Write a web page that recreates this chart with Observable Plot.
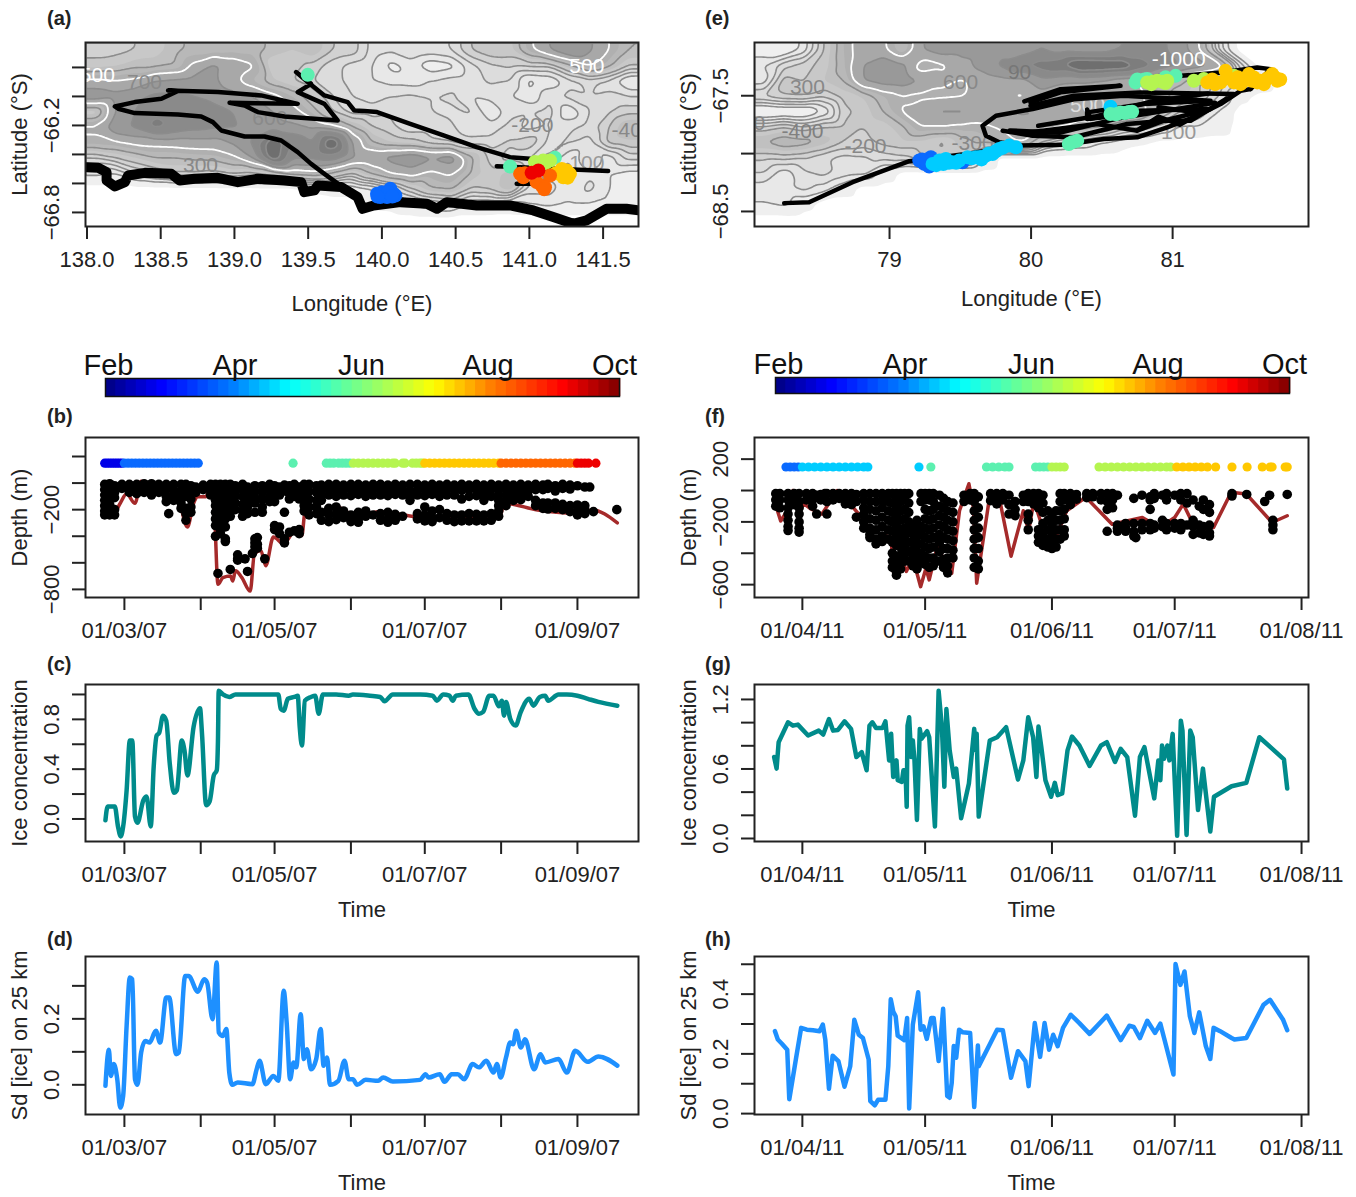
<!DOCTYPE html>
<html><head><meta charset="utf-8">
<script src="https://cdn.jsdelivr.net/npm/d3@7"></script>
<script src="https://cdn.jsdelivr.net/npm/@observablehq/plot@0.6"></script>
<style>
html,body{margin:0;padding:0;background:#fff}
#stage{position:relative;width:1356px;height:1197px;overflow:hidden;font-family:"Liberation Sans",Arial,sans-serif;color:#222}
#stage>svg{position:absolute;overflow:visible}
.letter{position:absolute;font-weight:bold;font-size:20px;line-height:20px}
</style></head><body><div id="stage"></div>
<script>
// ---------- data ----------
const monthColors={2:"#0000e8",3:"#0a6aff",4:"#00ccff",5:"#5cf0b0",6:"#b5f550",7:"#ffc800",8:"#ff6600",9:"#ee0000"};
const jetStops=[0,.11,.25,.36,.5,.64,.75,.89,1];
const jetColors=["#00007f","#0000ff","#007fff","#00ffff","#7fff7f","#ffff00","#ff7f00","#ff0000","#7f0000"];
const barMonths=["Feb","Apr","Jun","Aug","Oct"];
const barMonthNumbers=[2,4,6,8,10];
const barSteps=[0,.02,.04,.06,.08,.1,.12,.14,.16,.18,.2,.22,.24,.26,.28,.3,.32,.34,.36,.38,.4,.42,.44,.46,.48,.5,.52,.54,.56,.58,.6,.62,.64,.66,.68,.7,.72,.74,.76,.78,.8,.82,.84,.86,.88,.9,.92,.94,.96,.98];

const aDepth=[
[280,280,300,320,380,420,420,430,430,380,350,400,300,280,180,160,200,180,200,300,340,330,480,600,700,620,500,400],
[320,340,380,380,400,520,620,560,510,300,320,280,220,180,150,80,120,60,80,180,240,260,260,260,380,510,420,300],
[520,500,520,600,620,640,620,520,440,350,300,250,220,180,150,130,120,150,170,180,210,200,80,100,180,220,180,80],
[680,640,680,720,720,700,680,640,600,530,450,350,250,200,180,200,210,200,210,150,170,150,100,200,220,200,210,200],
[300,600,700,780,760,750,720,700,650,600,540,430,300,220,220,240,230,200,190,210,100,180,200,220,100,200,240,280],
[520,680,720,830,780,740,720,710,680,640,620,580,520,400,300,260,210,220,210,160,170,220,180,200,190,220,300,410],
[480,490,530,540,550,560,560,620,720,1010,800,700,1020,600,400,340,320,260,240,220,220,260,290,180,210,180,320,340],
[250,300,350,400,400,420,430,480,620,1000,720,720,760,620,600,640,680,620,660,420,280,220,190,210,100,210,120,220],
[120,100,200,250,300,300,280,320,300,350,450,480,400,300,420,520,560,480,520,400,320,380,220,120,80,140,100,80],
[0,0,0,0,0,0,0,0,0,0,0,40,60,60,100,180,300,400,420,300,320,400,180,180,100,170,100,80],
[0,0,0,0,0,0,0,0,0,0,0,0,0,0,40,50,100,150,200,100,100,80,100,120,100,100,100,100],
[0,0,0,0,0,0,0,0,0,0,0,0,0,0,0,0,0,0,0,0,0,0,0,0,0,0,0,0]];
const eDepth=[
[60,40,120,300,450,560,520,400,600,650,640,640,680,650,700,660,640,640,700,720,720,660,500,180,0,0,0,0],
[150,240,280,320,440,600,700,620,430,480,560,640,720,800,850,900,1040,1030,1010,880,760,700,650,560,200,0,0,0],
[120,330,300,350,400,600,650,660,600,520,490,530,560,560,660,620,610,580,520,490,450,420,300,240,200,100,0,0],
[260,300,310,260,320,350,440,490,470,480,490,560,510,480,560,520,500,520,540,520,440,360,300,200,50,0,0,0],
[0,20,20,100,280,320,400,510,600,620,620,560,600,620,600,570,560,600,620,560,380,250,200,90,0,0,0,0],
[260,300,250,300,310,300,320,390,500,500,480,480,510,540,540,510,450,400,300,250,170,90,90,60,0,0,0,0],
[410,460,440,380,300,280,320,340,330,280,370,420,470,520,300,200,160,100,60,30,0,0,0,0,0,0,0,0],
[260,270,250,210,180,190,220,240,300,320,320,120,0,0,0,0,0,0,0,0,0,0,0,0,0,0,0,0],
[200,120,190,220,180,170,70,0,0,0,0,0,0,0,0,0,0,0,0,0,0,0,0,0,0,0,0,0],
[120,140,170,130,60,0,0,0,0,0,0,0,0,0,0,0,0,0,0,0,0,0,0,0,0,0,0,0],
[100,120,50,0,0,0,0,0,0,0,0,0,0,0,0,0,0,0,0,0,0,0,0,0,0,0,0,0],
[0,0,0,0,0,0,0,0,0,0,0,0,0,0,0,0,0,0,0,0,0,0,0,0,0,0,0,0]];
const fillLevels=[25,100,150,200,250,300,350,400,450,500,600,700,800,900,1000];
const greyLines=[100,150,200,250,300,400,600,700,800,900];
const whiteLines=[500,1000];

const aCoast=[[137.997,-66.488],[138.076,-66.492],[138.133,-66.522],[138.133,-66.58],[138.189,-66.621],[138.257,-66.591],[138.279,-66.545],[138.392,-66.527],[138.572,-66.534],[138.629,-66.58],[138.73,-66.568],[138.888,-66.561],[139.023,-66.591],[139.159,-66.568],[139.339,-66.58],[139.452,-66.591],[139.474,-66.66],[139.542,-66.648],[139.565,-66.614],[139.723,-66.625],[139.835,-66.694],[139.869,-66.775],[139.944,-66.752],[140.125,-66.729],[140.305,-66.74],[140.373,-66.775],[140.44,-66.729],[140.643,-66.752],[140.869,-66.752],[141.027,-66.786],[141.162,-66.832],[141.297,-66.878],[141.388,-66.855],[141.523,-66.775],[141.658,-66.775],[141.748,-66.786]];
const aTrack=[[139.734,-66.625],[139.61,-66.534],[139.52,-66.465],[139.429,-66.384],[139.317,-66.304],[139.204,-66.276],[139.069,-66.276],[138.911,-66.235],[138.854,-66.177],[138.775,-66.138],[138.617,-66.124],[138.324,-66.115],[138.212,-66.085],[138.189,-66.069],[138.324,-66.039],[138.505,-66.016],[138.617,-65.963],[138.55,-65.959],[138.888,-65.97],[139.181,-65.993],[139.429,-66.051],[138.967,-66.044],[139.069,-66.062],[139.159,-66.108],[139.339,-66.138],[139.7,-66.166],[139.61,-66.051],[139.429,-65.97],[139.52,-65.913],[139.418,-65.832],[139.497,-65.901],[139.61,-65.993],[139.768,-66.039],[139.813,-66.097],[139.88,-66.101],[139.967,-66.108],[140.192,-66.189],[140.418,-66.269],[140.643,-66.35],[140.869,-66.419],[141.004,-66.43]];
const aTrackEast=[[140.779,-66.481],[141.534,-66.515]];
const aTrackSouth=[[140.914,-66.603],[141.027,-66.603]];
const aDots=[[139.497,-65.851,5],[139.967,-66.671,3],[140.012,-66.683,3],[140.057,-66.637,3],[140.08,-66.671,3],[139.989,-66.694,3],[140.034,-66.694,3],[140.091,-66.683,3],[140,-66.66,3],[140.04,-66.66,3],[140.07,-66.69,3],[139.97,-66.69,3],[140.869,-66.483,5],[141.173,-66.423,5],[141.038,-66.453,6],[141.094,-66.442,6],[141.14,-66.442,6],[141.06,-66.47,6],[141.11,-66.46,6],[141.207,-66.522,7],[141.252,-66.511,7],[141.275,-66.534,7],[141.23,-66.557,7],[141.22,-66.5,7],[141.26,-66.56,7],[141.18,-66.53,7],[140.937,-66.534,8],[140.959,-66.557,8],[141.083,-66.614,8],[141.14,-66.545,8],[141.049,-66.591,8],[141.106,-66.626,8],[140.97,-66.53,8],[141.1,-66.64,8],[141.015,-66.527,9],[141.061,-66.511,9]];
const aLabels=[["500",138.07,-65.855,"#fff"],["500",141.39,-65.79,"#fff"],["-200",141.02,-66.2,"#888"],["-40",141.66,-66.23,"#888"],["100",141.39,-66.46,"#999"],["300",138.77,-66.476,"#888"],["700",138.39,-65.9,"#8a8a8a"],["600",139.24,-66.15,"#8a8a8a"]];

const eStrands=[
[[78.256,-68.428],[78.432,-68.42],[78.739,-68.247],[79.139,-68.066],[79.54,-68.003],[79.917,-67.931],[80.232,-67.923],[80.514,-67.874],[80.75,-67.859],[80.962,-67.773],[81.174,-67.673],[81.339,-67.572],[81.48,-67.457],[81.55,-67.443]],
[[79.917,-67.931],[79.775,-67.902],[79.681,-67.845],[79.657,-67.759],[79.752,-67.673],[80.011,-67.615],[80.302,-67.53],[80.656,-67.5],[81.268,-67.543],[80.797,-67.572],[80.396,-67.644],[80.396,-67.701],[80.773,-67.63],[81.268,-67.615],[80.938,-67.716],[80.75,-67.802],[80.467,-67.744],[79.996,-67.816]],
[[79.799,-67.802],[80.011,-67.845],[80.302,-67.859],[80.679,-67.744],[80.938,-67.716],[81.127,-67.716],[81.433,-67.486],[80.773,-67.471],[80.302,-67.5],[79.996,-67.586]],
[[79.952,-67.549],[80.208,-67.443],[80.632,-67.414],[80.208,-67.471],[79.996,-67.558]],
[[81.06,-67.328],[81.35,-67.3],[81.598,-67.256],[81.692,-67.27],[81.55,-67.443]],
[[79.85,-67.8],[80.2,-67.82],[80.6,-67.7],[81,-67.62],[81.3,-67.56]],
[[80.05,-67.76],[80.45,-67.68],[80.85,-67.55],[81.25,-67.48]],
[[80.75,-67.8],[80.9,-67.68],[81.05,-67.75],[81.2,-67.65],[80.9,-67.6]],
[[80.396,-67.62],[80.42,-67.7],[80.56,-67.68]]];
const eDots=[[79.21,-68.06,3],[79.245,-68.089,3],[79.28,-68.112,3],[79.292,-68.032,3],[79.516,-68.075,3],[79.23,-68.05,3],[79.26,-68.07,3],[79.3,-68.05,3],
[79.304,-68.089,4],[79.351,-68.06,4],[79.398,-68.046,4],[79.445,-68.075,4],[79.493,-68.06,4],[79.551,-68.032,4],[79.61,-68.032,4],[79.681,-68.017,4],[79.728,-68.003,4],[79.775,-67.96,4],[79.846,-67.931,4],[79.893,-67.946,4],[80.561,-67.595,4],[79.33,-68.1,4],[79.38,-68.09,4],[79.42,-68.08,4],[79.47,-68.08,4],[79.37,-68.06,4],[79.58,-68.04,4],[79.64,-68.03,4],[79.7,-68,4],[79.75,-67.98,4],[79.8,-67.95,4],[79.65,-68.05,4],
[80.29,-67.902,5],[80.326,-67.888,5],[80.267,-67.917,5],[80.561,-67.658,5],[80.632,-67.644,5],[80.714,-67.638,5],[80.66,-67.65,5],[80.6,-67.66,5],[80.69,-67.64,5],[80.738,-67.385,5],[80.82,-67.356,5],[81.021,-67.328,5],[80.8,-67.36,5],[80.95,-67.34,5],[80.75,-67.36,5],
[80.82,-67.385,6],[80.891,-67.371,6],[80.962,-67.371,6],[81.15,-67.371,6],[81.221,-67.356,6],[81.433,-67.328,6],[80.86,-67.38,6],[80.93,-67.38,6],[80.85,-67.4,6],[80.95,-67.39,6],
[81.245,-67.385,7],[81.339,-67.385,7],[81.374,-67.285,7],[81.433,-67.385,7],[81.504,-67.371,7],[81.539,-67.313,7],[81.598,-67.385,7],[81.645,-67.4,7],[81.704,-67.313,7],[81.739,-67.371,7],[81.386,-67.342,7],[81.574,-67.342,7],[81.28,-67.36,7],[81.3,-67.4,7],[81.46,-67.34,7],[81.48,-67.4,7],[81.56,-67.37,7],[81.62,-67.37,7],[81.67,-67.35,7],[81.72,-67.34,7],[81.76,-67.36,7]];
const eLabels=[["-1000",81.043,-67.181,"#fff"],["600",79.502,-67.384,"#888"],["-400",78.385,-67.81,"#808080"],["-200",78.83,-67.94,"#888"],["-300",79.587,-67.914,"#888"],["300",78.42,-67.431,"#888"],["500",80.399,-67.586,"#ddd"],["100",81.042,-67.819,"#999"],["0",78.081,-67.741,"#888"],["90",79.919,-67.3,"#777"]];

// days counted from 1 March 2007 (left) and from 1 April 2011 (right)
const bBottom=[[-7.7,-178],[-5.1,-254],[-1.7,-152],[.9,-81],[4.3,-152],[6.8,13],[8.5,-30],[22.1,-89],[23.3,-203],[25.6,-330],[28.1,-152],[29.8,-102],[33.2,-102],[34.9,5],[36.6,-229],[38,-762],[40,-711],[43.1,-699],[44,-737],[45.1,-660],[47.7,-711],[51.1,-813],[52.8,-533],[55.4,-508],[57.4,-622],[60.5,-406],[64.7,-457],[69,-368],[72.1,-394],[73.3,-229],[79.2,-229],[86,-178],[94.5,-254],[103.1,-216],[120.1,-254],[152.5,-254],[154.2,-152],[167.8,-203],[184.8,-229],[190,-203],[200.2,-300]];
const bSurfaceDays=[-8,-7,-6,-5,-4,-3,-2,-1,0,1.5,3,4.5,6,7.5,9,10.5,12,13.5,15,16.5,18,19.5,21,22.5,24,25.5,27,28.5,30,68.5,82,83.5,85,87,88.5,90,91.5,93,95,97,99,101,103,105,107,109,110,113,114,117,118.5,120,121,122,124,126,128,130,132,134,136,138,140,142,144,146,148,150,152,153,155,157,159,161,163,165,167,169,171,173,175,177,179,181,183,184,185.5,187,188.5,191.5];
const bDives=[[-8,[-10,-50,-90,-130,-170,-210,-240]],[-6,[-5,-40,-80,-120,-160,-200,-240]],[-4,[-20,-70,-110,-200,-240]],[-1,[-10,-40]],[2,[-10,-50,-70]],[5,[-10,-40,-80]],[8,[-5,-40,-70]],[11,[-5,-40,-90]],[14,[-10,-40,-70]],[17,[-10,-50,-100,-140]],[18,[-230]],[20,[-10,-50,-90,-130]],[23,[-10,-60,-110,-150,-190]],[25,[-10,-50,-100,-190,-230,-280]],[27,[-20,-70,-120,-180,-220]],[29,[-30,-70]],[32,[-15,-50]],[35,[-10,-45,-90]],[37,[-10,-50,-90,-130,-170,-220,-270,-320,-400]],[38,[-680]],[39,[-10,-50,-100,-150,-200,-250,-300,-350,-380]],[41,[-10,-60,-110,-160,-220,-270,-330,-420,-440]],[43,[-10,-50,-100,-150,-200,-250,-650]],[45,[-20,-60,-100,-150,-200]],[46,[-540,-570,-580]],[48,[-10,-50,-100,-160,-210,-250]],[49,[-570]],[50,[-30,-80,-130,-180,-230,-665]],[52,[-530]],[53,[-20,-60,-110,-150,-220,-420,-450,-480]],[54,[-410,-460,-490]],[56,[-20,-70,-120,-180,-220]],[57,[-570]],[59,[-10,-50,-100,-140]],[61,[-20,-60,-100,-140,-320,-350]],[63,[-30,-90,-330,-380]],[65,[-15,-60,-220,-420,-450]],[67,[-20,-80,-120,-370]],[69,[-10,-50,-100,-360]],[71,[-30,-80,-120,-350,-380]],[73,[-10,-50,-90,-130,-170,-210]],[75,[-10,-60,-120,-180,-240]],[78,[-20,-70,-130,-180,-230]],[80,[-15,-50,-90,-130,-220,-280]],[83,[-10,-45,-90,-190,-240,-290]],[86,[-10,-55,-100,-180,-230,-275]],[89,[-15,-50,-90,-210,-260]],[92,[-10,-50,-95,-240,-290]],[95,[-10,-45,-85,-220,-270,-295]],[98,[-15,-60,-100,-210,-250]],[101,[-10,-50,-90,-240]],[104,[-10,-45,-90,-230,-280]],[107,[-15,-55,-95,-220,-270,-295]],[110,[-10,-50,-85,-235,-280]],[113,[-15,-50,-90,-250]],[116,[-10,-60,-100,-130]],[119,[-10,-50,-90,-230,-270]],[122,[-15,-50,-95,-180,-240,-285]],[125,[-10,-50,-85,-210,-260,-290]],[128,[-15,-60,-100,-200,-260]],[131,[-10,-50,-90,-230,-280]],[134,[-15,-50,-90,-240,-290]],[137,[-10,-55,-120,-240,-285]],[140,[-15,-50,-100,-230,-285]],[143,[-10,-45,-95,-235,-285]],[146,[-15,-55,-90,-130,-240,-285]],[149,[-10,-50,-100,-230,-280]],[152,[-15,-50,-90,-130,-170,-210,-250]],[155,[-10,-50,-90,-130,-170]],[158,[-15,-55,-100,-130]],[161,[-10,-50,-90,-125]],[164,[-15,-60,-100]],[167,[-10,-50,-130,-170]],[170,[-15,-50,-150,-190]],[172,[-10,-40,-150,-195]],[175,[-20,-60,-150,-190]],[178,[-10,-40,-160,-200]],[181,[-15,-45,-170,-215]],[184,[-20,-165,-210,-240]],[187,[-30,-170,-200,-230]],[189,[-30]],[190.5,[-215]],[200,[-200]]];
const cIce=[[-7.7,-.01],[-6.8,.1],[-5.1,.1],[-3.9,.1],[-2.6,-.06],[-1.5,-.14],[-.5,-.06],[.9,.23],[2.2,.63],[3.2,.63],[4.3,.02],[5.3,-.03],[7.7,.15],[9,.18],[10.7,-.06],[11.9,.42],[13.1,.67],[14.1,.69],[15.7,.83],[17,.79],[18.4,.45],[20.1,.21],[21.3,.23],[23.3,.63],[24.4,.55],[25.6,.35],[28.1,.74],[30.7,.89],[31.5,.69],[33.2,.11],[34.6,.14],[36.3,.35],[37.5,.39],[38,.63],[38.3,1.03],[40,1],[42.6,.98],[45.1,1],[60.5,1],[62.5,1],[63.5,.885],[64.7,.87],[66.4,.965],[69,.98],[70.4,.99],[71.2,.74],[72.1,.59],[73.3,.95],[75.8,.98],[77.5,.99],[78.9,.845],[80.6,1],[86,1],[91.1,.99],[92.8,1],[99.7,.99],[103.9,.98],[105.6,.945],[109,1],[120.1,1],[125.2,.99],[126.9,.95],[129.5,1],[132,.99],[133.4,.95],[134.6,.99],[139.7,1],[142.2,.885],[144,.845],[145.7,.86],[148.2,.99],[149.9,.99],[152.1,.905],[153.3,.95],[154.2,.83],[155,.94],[156.7,.805],[158.9,.75],[161,.86],[164.4,.965],[166.1,.91],[168.7,.98],[170.9,.99],[172.1,.95],[176.3,1],[179.7,1],[184,.99],[188.2,.965],[192.5,.94],[200.2,.91]];
const dSd=[[-7.7,-.003],[-6.8,.088],[-6.3,.106],[-5.5,.027],[-4.3,.063],[-2.9,.017],[-1.7,-.069],[-.5,-.033],[.9,.179],[2.2,.325],[3.2,.32],[4.3,.017],[5.3,0],[6.8,.098],[8.5,.133],[10.2,.128],[12.8,.164],[14.5,.128],[17,.265],[18.2,.265],[21,.093],[22.1,.098],[24.7,.33],[26.1,.33],[29.8,.282],[32.4,.32],[33.6,.31],[35.8,.199],[37.5,.371],[38.3,.159],[40,.148],[41.4,.169],[42.6,.037],[43.8,0],[46,.007],[52,.002],[53.7,.047],[54.9,.073],[57.4,.002],[60.5,.027],[62.5,.012],[64.7,.285],[65.9,.189],[67.3,.017],[68.7,.068],[69.8,.053],[71.6,.214],[72.9,.078],[74.1,.108],[75.8,.047],[77.9,.078],[79.7,.169],[80.9,.058],[82.3,.083],[83.5,0],[86.9,.012],[89.4,.073],[91.1,.017],[92.8,.017],[94.5,0],[98,.015],[103.1,.012],[105.1,.022],[109,.01],[120.1,.015],[122.3,.032],[123.5,.022],[128.1,.032],[130,.009],[132.9,.032],[135.4,.032],[138,.017],[141.4,.063],[144,.053],[147,.073],[149.9,.037],[151.3,.063],[152.8,.022],[155,.083],[156.7,.128],[157.9,.123],[159.1,.164],[161,.113],[162.7,.138],[166.4,.047],[169,.093],[170.9,.068],[176.3,.078],[179.7,.037],[183.1,.103],[188.2,.07],[192.5,.086],[200.2,.058]];
const fBottom=[[-6.6,-86],[-5.3,-194],[-3.7,-129],[-2.3,0],[-1.1,-129],[.5,-86],[2.1,-118],[4.8,-150],[8.5,0],[10.6,-54],[13.8,-150],[15.3,-194],[17.5,-322],[19.6,-280],[21.7,-301],[22.2,-516],[23.8,-408],[25.4,-516],[27,-430],[28.9,-613],[30.2,-495],[31,-570],[33.3,-322],[34.9,-516],[36.5,-527],[38.4,-129],[40.7,43],[41.8,-108],[42.6,-591],[45.5,-86],[48.1,-43],[51,-419],[54,-129],[55.3,-258],[56.6,-65],[58.7,-236],[61.9,-301],[64.6,-129],[69.3,-43],[75.7,-215],[83.1,-172],[87.3,-236],[91,-172],[93.1,-86],[94.7,-172],[97.9,-236],[100.5,-236],[104.8,-11],[108.5,-22],[114.8,-204],[118.5,-161]];
const fSurfaceDays=[-4,-3,-2,-1,0,1.5,3,4.5,6,7.5,9,10.5,12,13.5,15,16,28.5,31.4,45,46.5,48,49.5,50.5,57,58,59,60,61,62,63,64,72.5,74,75.5,77,78.5,80,81.5,83,84.5,86,87.5,89,90,91.5,93,94.5,96,97.5,99,101,105,108.7,112.4,114.3,114.8,118,118.5];
const fDives=[[-6.5,[-20,-60,-100]],[-5.5,[-20,-60,-110]],[-3.5,[-20,-60,-110,-150,-190,-230,-255]],[-2,[-20,-60,-90]],[-.8,[-20,-70,-110,-150,-200,-240,-265]],[1,[-20,-60]],[2.5,[-20,-60,-100]],[3.5,[-30,-150]],[4.5,[-25,-60]],[5.5,[-20,-60]],[6,[-20,-70,-150]],[7.5,[-20,-60]],[9,[-20,-50]],[10.5,[-20,-60,-85]],[12,[-20,-55,-90]],[13.2,[-25,-70,-170]],[15,[-20,-60,-110,-150,-200,-240]],[16.5,[-20,-70,-120,-180,-240,-280,-300]],[18,[-20,-70,-130,-190,-250,-310,-340]],[19.5,[-20,-60,-110,-170,-230,-290,-325]],[21,[-20,-70,-130,-190,-250,-310]],[22,[-20,-80,-140,-200,-260,-330,-400,-450,-490]],[23,[-20,-60,-110,-170,-230,-290,-350,-420,-470,-520,-540]],[24,[-20,-70,-130,-190,-250,-310,-360,-410,-460,-500]],[25,[-20,-60,-120,-180,-240,-290,-350,-400,-450]],[26,[-20,-80,-140,-200,-260,-330,-390,-450]],[27,[-230,-280,-330,-380,-430,-480]],[28,[-190,-240,-290,-340,-390,-440,-490,-500]],[29,[-20,-70,-230,-280,-340,-400,-460]],[30,[-20,-60,-120,-180,-240,-300,-360,-420,-470]],[31,[-20,-60,-130,-190,-250,-310,-370,-430,-490]],[32,[-20,-70,-120,-180,-240,-300,-360,-430,-480]],[33.5,[-30,-100,-160,-220,-280,-330,-390,-450]],[34.5,[-50,-110,-170,-230,-300,-370,-440,-490]],[35.5,[-70,-130,-190,-250,-310,-370,-430,-480,-525]],[36.8,[-80,-140,-200,-260,-320,-380,-430]],[39.5,[-30,-70]],[41,[-20,-60]],[42,[-20,-70,-130,-190,-250,-310,-370,-430,-490]],[43,[-40,-110,-170,-240,-300,-370,-450,-500]],[46,[-20,-65]],[47.5,[-20,-50,-85]],[49,[-20,-60]],[50.5,[-30,-90,-150]],[52,[-70,-120,-160]],[54,[-30,-70]],[55.2,[-20,-70,-150,-190,-250]],[56.5,[-20,-60,-85]],[57.7,[-20,-60,-110,-250,-290,-330]],[58.8,[-30,-80,-140,-210,-270,-320,-350]],[60,[-130,-190,-250,-310,-360]],[61,[-150,-210,-270,-330,-370]],[62,[-130,-190,-250,-310,-360]],[63,[-20,-70,-130,-190,-250,-310]],[64,[-20,-60,-120,-180,-250,-290]],[65.5,[-20,-60,-90]],[67,[-25,-55]],[69.5,[-20,-45]],[71,[-20,-40]],[73,[-20,-60]],[74.5,[-20,-70,-120,-260]],[75.8,[-20,-60,-110]],[77,[-30,-220,-240,-260]],[79,[-210,-240,-260]],[81,[-50,-210,-260,-290]],[81.5,[-300]],[83,[-30,-210,-250]],[85,[-40,-60,-120,-210,-250]],[86,[-20,-50,-220,-240]],[88,[-30,-190,-230]],[89,[-20,-60,-210,-250]],[91,[-30,-210,-240]],[92.5,[-20,-60,-210,-250]],[94,[-20,-80,-220]],[95.5,[-60,-190,-230,-280]],[97,[-100,-220,-270]],[98,[-60,-120,-230,-280]],[99.5,[-90,-140,-220,-270,-290]],[105,[-20,-35]],[108.6,[-25]],[113,[-70]],[114.2,[-30]],[115,[-190,-220,-250]],[118.5,[-25]]];
const gIce=[[-6.9,.703],[-6.3,.603],[-5.8,.831],[-3.5,1.003],[-2.3,.974],[-1.1,.983],[1.4,.889],[4,.931],[5.1,.897],[6.5,1.031],[7.5,.931],[8.7,.937],[10.3,1.011],[11.9,.946],[13.2,.703],[14.5,.746],[15.7,.589],[16.4,.974],[17.1,1.003],[18,.954],[19.6,.954],[20.3,1.011],[21.2,.674],[21.7,.903],[22.2,.531],[23,.674],[23.3,.503],[24.3,.489],[24.7,.589],[25.2,.589],[25.5,.274],[25.7,.974],[26.1,1.046],[26.6,.703],[27,.846],[27.4,.674],[28,.16],[28.7,.946],[29.1,.86],[30.5,.926],[31,.874],[32.4,.103],[33.3,1.274],[34.1,.96],[34.7,.446],[35.2,1.117],[36,.76],[37,.531],[37.6,.603],[38.8,.174],[40.7,.474],[42,.946],[42.4,.76],[42.6,.903],[43.1,.189],[45.8,.846],[47.6,.874],[49.8,.96],[52.7,.509],[54,.674],[55.2,1.046],[56.4,.874],[57.2,.531],[57.7,.966],[58.4,.789],[59.4,.503],[60.8,.36],[61.7,.48],[62.4,.374],[63.5,.389],[64.8,.76],[65.9,.88],[67.7,.803],[70.2,.626],[73,.803],[74.4,.831],[76.4,.66],[77.8,.774],[79.4,.703],[81.3,.197],[82.5,.703],[83.6,.789],[86,.346],[87,.674],[87.5,.503],[87.9,.803],[88.4,.689],[89.2,.803],[89.7,.674],[90.5,.903],[91.6,.023],[92.5,1.017],[92.9,.931],[93.9,.031],[94.8,.931],[95.4,.874],[96.7,.246],[97.9,.603],[99.7,.06],[100.6,.36],[104.9,.451],[108.5,.48],[111.7,.874],[117.7,.683],[118.5,.431]];
const hSd=[[-6.7,.276],[-6,.248],[-5,.234],[-3.7,.214],[-3.2,.048],[-1.6,.181],[-.3,.287],[1.1,.281],[2.6,.279],[4.2,.276],[5,.298],[5.6,.248],[6.5,.083],[7.4,.194],[8.8,.176],[10.3,.09],[11.7,.159],[12.7,.314],[13.8,.264],[14.8,.253],[16.2,.181],[16.6,.042],[17.7,.028],[18.5,.046],[20.3,.046],[21,.159],[21.6,.383],[22.2,.342],[22.8,.326],[23.3,.261],[24.9,.246],[25.6,.32],[26.1,.017],[27,.298],[28.3,.406],[28.9,.281],[29.6,.292],[30.4,.25],[31.5,.32],[32.1,.32],[33.3,.176],[34.4,.351],[35.4,.059],[36,.053],[36.5,.103],[37,.226],[37.6,.187],[38.3,.281],[39.2,.272],[41,.27],[42,.022],[42.9,.228],[43.1,.159],[46,.237],[47.6,.281],[49,.279],[51,.12],[52.7,.209],[54.5,.176],[55.3,.092],[56.8,.303],[58.1,.19],[59.2,.303],[60.3,.214],[61.3,.264],[62.4,.226],[63.7,.287],[65.6,.331],[67.7,.303],[70.2,.267],[74.4,.328],[77.8,.246],[79.9,.294],[81,.29],[82.5,.253],[84.3,.311],[86.2,.27],[87.5,.301],[88.4,.253],[90.7,.131],[91.2,.501],[92.4,.431],[93.4,.476],[94.7,.326],[95.8,.27],[97,.339],[98.6,.226],[99.7,.183],[100.5,.287],[102.1,.276],[104.9,.253],[105.6,.248],[108.5,.253],[112.7,.364],[114.3,.381],[117.5,.314],[118.5,.279]];

const leftTicks=["2007-03-01","2007-04-01","2007-05-01","2007-06-01","2007-07-01","2007-08-01","2007-09-01"];
const leftLabels={"2007-03-01":"01/03/07","2007-05-01":"01/05/07","2007-07-01":"01/07/07","2007-09-01":"01/09/07"};
const rightTicks=["2011-04-01","2011-05-01","2011-06-01","2011-07-01","2011-08-01"];
const rightLabels={"2011-04-01":"01/04/11","2011-05-01":"01/05/11","2011-06-01":"01/06/11","2011-07-01":"01/07/11","2011-08-01":"01/08/11"};

// ---------- helpers ----------
const stage=document.getElementById("stage");
const INK="#222";
const FONT={fontFamily:"'Liberation Sans',Arial,sans-serif",background:"transparent",overflow:"visible"};
const toDate=(base,d)=>new Date(base+d*864e5);
const BASE_L=Date.UTC(2007,2,1), BASE_R=Date.UTC(2011,3,1);
const minus=s=>String(s).replace("-","−");
function place(plot,left,top){plot.style.left=left+"px";plot.style.top=top+"px";stage.appendChild(plot);}
function letter(t,x,y){const d=document.createElement("div");d.className="letter";d.textContent=t;d.style.left=x+"px";d.style.top=(y-10)+"px";stage.appendChild(d);}
const tick={fontSize:22,tickSize:13,strokeWidth:2,stroke:INK,color:INK};
function yAxis(ticks,labelled,fmt,label){
  return Plot.axisY({...tick,ticks,tickRotate:-90,tickPadding:14,
    tickFormat:d=>labelled.includes(d)?minus(fmt(d)):"",
    label,labelAnchor:"center",labelArrow:"none",labelOffset:74});
}
function timeAxis(col,label){
  const keys=col==="L"?leftTicks:rightTicks, labels=col==="L"?leftLabels:rightLabels;
  return Plot.axisX({...tick,ticks:keys.map(k=>new Date(k+"T00:00Z")),tickPadding:12,
    tickFormat:d=>labels[d.toISOString().slice(0,10)]||"",
    label,labelAnchor:"center",labelArrow:"none",labelOffset:75});
}
const geom={L:{left:0,width:678,marginLeft:85,marginRight:40,x:[toDate(BASE_L,-15.8),toDate(BASE_L,208.8)],base:BASE_L,curve:"monotone-x"},
            R:{left:670,width:686,marginLeft:84,marginRight:48,x:[toDate(BASE_R,-11.7),toDate(BASE_R,123.7)],base:BASE_R,curve:"linear"}};
function tsFrame(col,top,height,mt,mb,yDom,marks){
  const g=geom[col];
  place(Plot.plot({width:g.width,height,marginLeft:g.marginLeft,marginRight:g.marginRight,marginTop:mt,marginBottom:mb,
    style:FONT,x:{domain:g.x,axis:null},y:{domain:yDom,axis:null},marks:[...marks,Plot.frame({stroke:INK,strokeWidth:2})]}),g.left,top);
}
function linePanel(col,top,height,mt,mb,yDom,series,color,yTicks,yLab,yTitle,xTitle){
  const g=geom[col];
  tsFrame(col,top,height,mt,mb,yDom,[
    yAxis(yTicks,yLab,d=>d.toFixed(1),yTitle),
    timeAxis(col,xTitle),
    Plot.line(series,{x:d=>toDate(g.base,d[0]),y:d=>d[1],stroke:color,strokeWidth:4.5,curve:g.curve})
  ]);
}
function divePanel(col,top,height,mt,mb,yDom,bottom,surfaceDays,dives,yTicks,yLab){
  const g=geom[col];
  const diveDots=dives.flatMap(([d,list])=>list.map(v=>[d,v]));
  const colorOf=d=>monthColors[toDate(g.base,d).getUTCMonth()+1];
  tsFrame(col,top,height,mt,mb,yDom,[
    yAxis(yTicks,yLab,d=>d,"Depth (m)"),
    timeAxis(col,null),
    Plot.dot(surfaceDays,{x:d=>toDate(g.base,d),y:()=>150,r:4.6,fill:{value:d=>colorOf(d),scale:null}}),
    Plot.line(bottom,{x:d=>toDate(g.base,d[0]),y:d=>d[1],stroke:"#a52a2a",strokeWidth:3.5,curve:g.curve}),
    Plot.dot(diveDots,{x:d=>toDate(g.base,d[0]),y:d=>d[1],r:4.8,fill:"#000"})
  ]);
}
function mapPanel(left,width,ml,mr,lonDom,latDom,grid,tracks,coast,dots,labels,xTicks,xFmt,yTicks,yLab,labelOffset){
  const rows=grid.length, cols=grid[0].length, cells=[];
  // one ring of edge values past the frame, so the field needs no extrapolation at the border
  for(let j=-2;j<rows+2;j++) for(let i=-2;i<cols+2;i++){
    cells.push({lon:lonDom[0]+(i+.5)/cols*(lonDom[1]-lonDom[0]),
      lat:latDom[1]-(j+.5)/rows*(latDom[1]-latDom[0]),
      v:grid[Math.max(0,Math.min(rows-1,j))][Math.max(0,Math.min(cols-1,i))]});
  }
  const box={x:"lon",y:"lat",value:"v",interpolate:"barycentric",blur:1,pixelSize:2,clip:"frame"};
  place(Plot.plot({width,height:330,marginLeft:ml,marginRight:mr,marginTop:42,marginBottom:104,style:FONT,
    x:{domain:lonDom,axis:null},y:{domain:latDom,axis:null},
    color:{type:"linear",domain:[25,100,200,300,400,500,700,1000],range:["#efefef","#e8e8e8","#dcdcdc","#c8c8c8","#b8b8b8","#a8a8a8","#8a8a8a","#626262"]},
    marks:[
      Plot.contour(cells,{...box,thresholds:fillLevels,fill:"value",stroke:"none"}),
      Plot.contour(cells,{...box,thresholds:greyLines,fill:"none",stroke:"#8c8c8c",strokeWidth:1.6}),
      Plot.contour(cells,{...box,thresholds:whiteLines,fill:"none",stroke:"#fff",strokeWidth:1.8}),
      Plot.text(labels,{x:d=>d[1],y:d=>d[2],text:d=>d[0],fill:d=>d[3],fontSize:21,clip:"frame"}),
      Plot.axisY({...tick,ticks:yTicks,tickRotate:-90,tickPadding:14,tickFormat:d=>yLab.includes(d)?minus(d):"",label:"Latitude (°S)",labelAnchor:"center",labelArrow:"none",labelOffset:74}),
      Plot.axisX({...tick,ticks:xTicks,tickPadding:12,tickFormat:xFmt,label:"Longitude (°E)",labelAnchor:"center",labelArrow:"none",labelOffset}),
      ...(coast?[Plot.line(coast,{x:d=>d[0],y:d=>d[1],stroke:"#000",strokeWidth:10,clip:"frame"})]:[]),
      ...tracks.map(t=>Plot.line(t,{x:d=>d[0],y:d=>d[1],stroke:"#000",strokeWidth:4.5,clip:"frame"})),
      Plot.dot(dots,{x:d=>d[0],y:d=>d[1],r:7,fill:{value:d=>monthColors[d[2]],scale:null},clip:"frame"}),
      Plot.frame({stroke:INK,strokeWidth:2})
    ]}),left,0);
}
function colorBar(left,top,height){
  const x=Plot.plot({width:678,height:height+40,marginLeft:105,marginRight:59,marginTop:40,marginBottom:0,style:FONT,
    x:{domain:[1.953,10.08],axis:null},y:{axis:null},
    color:{type:"linear",domain:jetStops,range:jetColors},
    marks:[
      Plot.rectY(barSteps,{x1:d=>1.953+d*8.127,x2:d=>1.953+(d+.02)*8.127+.02,y1:()=>0,y2:()=>1,fill:d=>d+.01}),
      Plot.axisX({anchor:"top",ticks:barMonthNumbers,tickSize:0,tickPadding:4,fontSize:29,color:"#111",tickFormat:d=>barMonths[barMonthNumbers.indexOf(d)],label:null}),
      Plot.frame({stroke:"#111",strokeWidth:1.5})
    ]});
  place(x,left,top-40);
}

// ---------- panels ----------
mapPanel(0,678,85,40,[137.99,141.74],[-66.897,-65.628],aDepth,[aTrack,aTrackEast,aTrackSouth],aCoast,aDots,aLabels,
  [138,138.5,139,139.5,140,140.5,141,141.5],d=>d.toFixed(1),[-65.8,-66,-66.2,-66.4,-66.6,-66.8],[-66.2,-66.8],84);
mapPanel(670,686,84,48,[78.046,81.96],[-68.63,-67.04],eDepth,eStrands,null,eDots,eLabels,
  [79,80,81],d=>String(d),[-67.5,-68,-68.5],[-67.5,-68.5],79);
colorBar(0,378,18);
colorBar(670,377,16);
divePanel("L",410,240,27,53,[-861,343],bBottom,bSurfaceDays,bDives,[200,0,-200,-400,-600,-800],[-200,-800]);
divePanel("R",410,240,27,53,[-682,338],fBottom,fSurfaceDays,fDives,[200,0,-200,-400,-600],[200,-200,-600]);
linePanel("L",650,275,34,84,[-.181,1.08],cIce,"#008b8b",[0,.2,.4,.6,.8,1],[0,.4,.8],"Ice concentration","Time");
linePanel("R",650,275,34,84,[-.026,1.329],gIce,"#008b8b",[0,.2,.4,.6,.8,1,1.2],[0,.6,1.2],"Ice concentration","Time");
linePanel("L",925,272,31,83,[-.09,.389],dSd,"#1e90ff",[0,.1,.2,.3],[0,.2],"Sd [ice] on 25 km","Time");
linePanel("R",925,272,31,83,[-.003,.526],hSd,"#1e90ff",[0,.1,.2,.3,.4,.5],[0,.2,.4],"Sd [ice] on 25 km","Time");
[["(a)",47,18],["(b)",47,416],["(c)",47,664],["(d)",47,939],["(e)",705,18],["(f)",705,416],["(g)",705,664],["(h)",705,939]].forEach(l=>letter(...l));
</script></body></html>
